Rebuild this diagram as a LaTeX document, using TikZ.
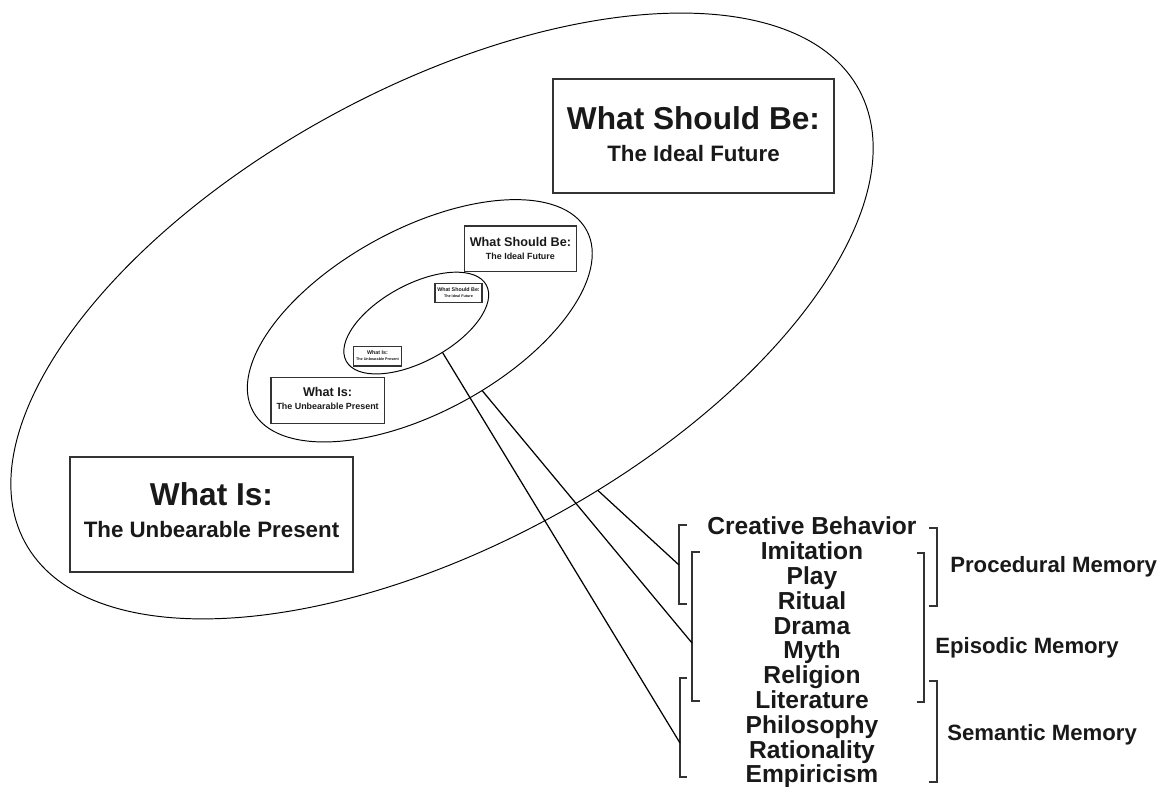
\documentclass[tikz,border=0pt]{standalone}
\usepackage{fontspec}
\setmainfont{Liberation Sans}
\begin{document}
\begin{tikzpicture}[
    rim/.style={line width=0.55pt},
    framebox/.style={draw=black!80, line width=0.75pt, inner sep=0pt},
    titletext/.style={font=\bfseries\fontsize{18}{20}\selectfont, anchor=base, inner sep=0pt, text=black!90},
    subtext/.style={font=\bfseries\fontsize{12.7}{14}\selectfont, anchor=base, inner sep=0pt, text=black!90},
    itemtext/.style={font=\bfseries\fontsize{14}{15}\selectfont, anchor=base, inner sep=0pt, text=black!90},
    memlabel/.style={font=\bfseries\fontsize{12.6}{14}\selectfont, anchor=base west, inner sep=0pt, text=black!90},
    bracket/.style={line width=0.6pt, draw=black!80},
    link/.style={line width=0.7pt}]
\useasboundingbox (0,0) rectangle (23.32,15.74);

% Drawing the nested levels: outer, middle, inner
\foreach \s/\dx/\dy/\n in {1/0/0/1, 0.4/4.86/5.556/2, 0.168/6.84/7.696/3} {
  \begin{scope}[shift={(\dx,\dy)}, scale=\s, transform shape]
    % Drawing ellipse of the level
    \begin{scope}[shift={(8.84,9.42)}, rotate=28.5]
      \draw [rim] (0,0) ellipse (9.49 and 4.58);%
      \coordinate (tap\n) at (276.5:9.49 and 4.58);%
    \end{scope}
    % Marking box What Should Be
    \node [framebox, minimum width=5.62cm, minimum height=2.28cm] (future\n) at (13.87,13.02) {};%
    \node [titletext] (futuretitle\n) at (13.87,13.154) {What Should Be:};%
    \node [subtext] (futuresub\n) at (13.87,12.506) {The Ideal Future};%
    % Marking box What Is
    \node [framebox, minimum width=5.66cm, minimum height=2.30cm] (present\n) at (4.23,5.45) {};%
    \node [titletext] (presenttitle\n) at (4.23,5.62) {What Is:};%
    \node [subtext] (presentsub\n) at (4.23,4.98) {The Unbearable Present};%
  \end{scope}
}

% Drawing the list of behaviors
\foreach \item [count=\k from 0] in {Creative Behavior, Imitation, Play, Ritual, Drama, Myth, Religion, Literature, Philosophy, Rationality, Empiricism}
  \node [itemtext] (item\k) at (16.24,{5.04-0.496*\k}) {\item};%

% Drawing bracket of procedural memory
\coordinate (hook1) at (13.58,4.44);
\draw [bracket] (13.74,5.24) -- (13.58,5.24) -- (13.58,3.66) -- (13.74,3.66);%
\draw [bracket] (18.58,5.18) -- (18.74,5.18) -- (18.74,3.62) -- (18.58,3.62);%
\node [memlabel] (procedural) at (19.00,4.286) {Procedural Memory};%

% Drawing bracket of episodic memory
\coordinate (hook2) at (13.84,2.88);
\draw [bracket] (14.00,4.70) -- (13.84,4.70) -- (13.84,1.72) -- (14.00,1.72);%
\draw [bracket] (18.34,4.68) -- (18.48,4.68) -- (18.48,1.70) -- (18.34,1.70);%
\node [memlabel] (episodic) at (18.70,2.674) {Episodic Memory};%

% Drawing bracket of semantic memory
\coordinate (hook3) at (13.60,0.88);
\draw [bracket] (13.74,2.18) -- (13.60,2.18) -- (13.60,0.20) -- (13.74,0.20);%
\draw [bracket] (18.58,2.12) -- (18.74,2.12) -- (18.74,0.10) -- (18.58,0.10);%
\node [memlabel] (semantic) at (18.94,0.926) {Semantic Memory};%

% Drawing links from the ellipses to the brackets
\draw [link] (tap1) -- (hook1);%
\draw [link] (tap2) -- (hook2);%
\draw [link] (tap3) -- (hook3);%
\end{tikzpicture}
\end{document}
